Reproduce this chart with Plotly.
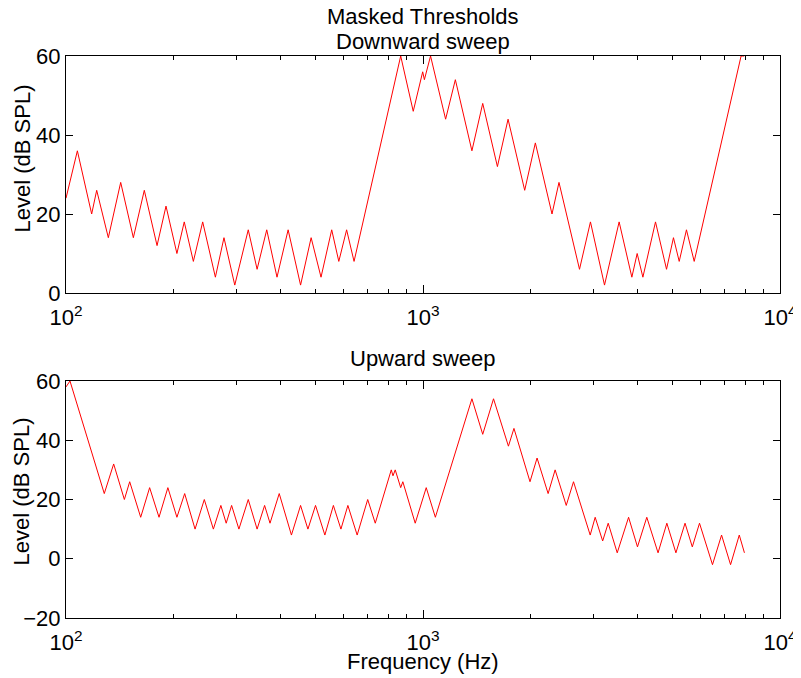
import plotly.graph_objects as go

# Downward sweep (top panel)
freq_down = [100, 107.6, 118, 121.9, 131.4, 142.3, 154.4, 165.7, 179.9, 190.6,
             204.5, 214.4, 227.4, 241.5, 262.1, 277, 297, 324, 343, 365,
             390, 419, 454, 486, 518, 555, 581, 611, 641, 866,
             939, 998, 1009, 1050, 1157, 1232, 1371, 1470, 1616, 1731,
             1927, 2064, 2298, 2404, 2744, 2945, 3224, 3543, 3846, 3980,
             4130, 4480, 4810, 5030, 5220, 5470, 5750, 7780, 7940]
level_down = [24, 36, 20, 26, 14, 28, 14, 26, 12, 22,
              10, 18, 8, 18, 4, 14, 2, 16, 6, 16,
              4, 16, 2, 14, 4, 16, 8, 16, 8, 60,
              46, 56, 54, 60, 44, 54, 36, 48, 32, 44,
              26, 38, 20, 28, 6, 18, 2, 18, 4, 10,
              4, 18, 6, 14, 8, 16, 8, 60, 60]

# Upward sweep (bottom panel)
freq_up = [100, 102.6, 128, 136, 145.7, 150.8, 161.9, 171.5, 182.2, 192.9,
           204.5, 215, 229.9, 244, 258.7, 271.5, 281, 291, 305, 324,
           343, 360, 372.8, 395.6, 428, 454, 476, 500, 531, 561,
           589, 616, 654, 700, 735, 815, 824, 836, 866, 878,
           951, 1021, 1083, 1371, 1470, 1576, 1735, 1798, 1994, 2087,
           2241, 2345, 2519, 2640, 2940, 3036, 3186, 3302, 3500, 3766,
           3988, 4235, 4554, 4820, 5110, 5420, 5680, 5950, 6470, 6860,
           7270, 7690, 7950]
level_up = [58, 60, 22, 32, 20, 26, 14, 24, 14, 24,
            14, 22, 10, 20, 10, 18, 12, 18, 10, 20,
            10, 18, 12, 22, 8, 18, 10, 18, 8, 18,
            10, 18, 8, 20, 12, 30, 28, 30, 24, 26,
            12, 24, 14, 54, 42, 54, 38, 44, 26, 34,
            22, 30, 18, 26, 8, 14, 6, 12, 2, 14,
            4, 14, 2, 12, 2, 12, 4, 12, -2, 8,
            -2, 8, 2]

x_tickvals = [100, 1000, 10000]
x_ticktext = ["10<sup>2</sup>", "10<sup>3</sup>", "10<sup>4</sup>"]
x_minor = [m * d for d in (100, 1000) for m in range(2, 10)]
y_ticks_top = [0, 20, 40, 60]
y_ticks_bot = [-20, 0, 20, 40, 60]

title_main = "Masked Thresholds"
title_top = "Downward sweep"
title_bot = "Upward sweep"
x_label = "Frequency (Hz)"
y_label = "Level (dB SPL)"

FONT = "Liberation Sans, Arial, Helvetica, sans-serif"
FS = 22

fig = go.Figure()
fig.add_trace(go.Scatter(x=freq_down, y=level_down, mode="lines",
                         line=dict(color="#ff0000", width=1), xaxis="x", yaxis="y",
                         showlegend=False))
fig.add_trace(go.Scatter(x=freq_up, y=level_up, mode="lines",
                         line=dict(color="#ff0000", width=1), xaxis="x2", yaxis="y2",
                         showlegend=False))

def xax(anchor):
    return dict(type="log", range=[2, 4], anchor=anchor, automargin=False,
                tickvals=x_tickvals, ticktext=x_ticktext,
                ticks="inside", ticklen=8, tickcolor="black", tickwidth=1,
                ticklabelstandoff=5, ticklabeloverflow="allow",
                minor=dict(ticks="inside", ticklen=4, tickvals=x_minor, tickcolor="black", showgrid=False),
                showline=True, linecolor="black", linewidth=1, mirror="allticks",
                showgrid=False, zeroline=False,
                tickfont=dict(size=FS, color="black", family=FONT))

def yax(anchor, rng, vals, domain):
    return dict(range=rng, anchor=anchor, domain=domain, tickvals=vals, automargin=False,
                ticks="inside", ticklen=7, tickcolor="black", tickwidth=1,
                ticklabeloverflow="allow",
                showline=True, linecolor="black", linewidth=1, mirror="allticks",
                showgrid=False, zeroline=False,
                tickfont=dict(size=FS, color="black", family=FONT))

def label(text, x, y, angle=0):
    return dict(text=text, x=x, y=y, xref="paper", yref="paper", textangle=angle,
                showarrow=False, xanchor="center", yanchor="middle",
                font=dict(size=FS, color="black", family=FONT))

# The page body adds an 8px margin; plot areas end up at x 66-780, y 56-293 and 381-618
fig.update_layout(
    width=793, height=670,
    margin=dict(l=58, r=21, t=48, b=60),
    paper_bgcolor="white", plot_bgcolor="white",
    font=dict(family=FONT, color="black", size=FS),
    xaxis=xax("y"),
    yaxis=yax("x", [0, 60], y_ticks_top, [0.5783, 1.0]),
    xaxis2=xax("y2"),
    yaxis2=yax("x2", [-20, 60], y_ticks_bot, [0.0, 0.4217]),
    annotations=[
        label(title_main, 0.5, 1.0694),
        label(title_top, 0.5, 1.0260),
        label(title_bot, 0.5, 0.4626),
        label(x_label, 0.5, -0.0770),
        label(y_label, -0.0610, 0.8185, -90),
        label(y_label, -0.0610, 0.2260, -90),
    ],
)

fig.write_html("out.html")
